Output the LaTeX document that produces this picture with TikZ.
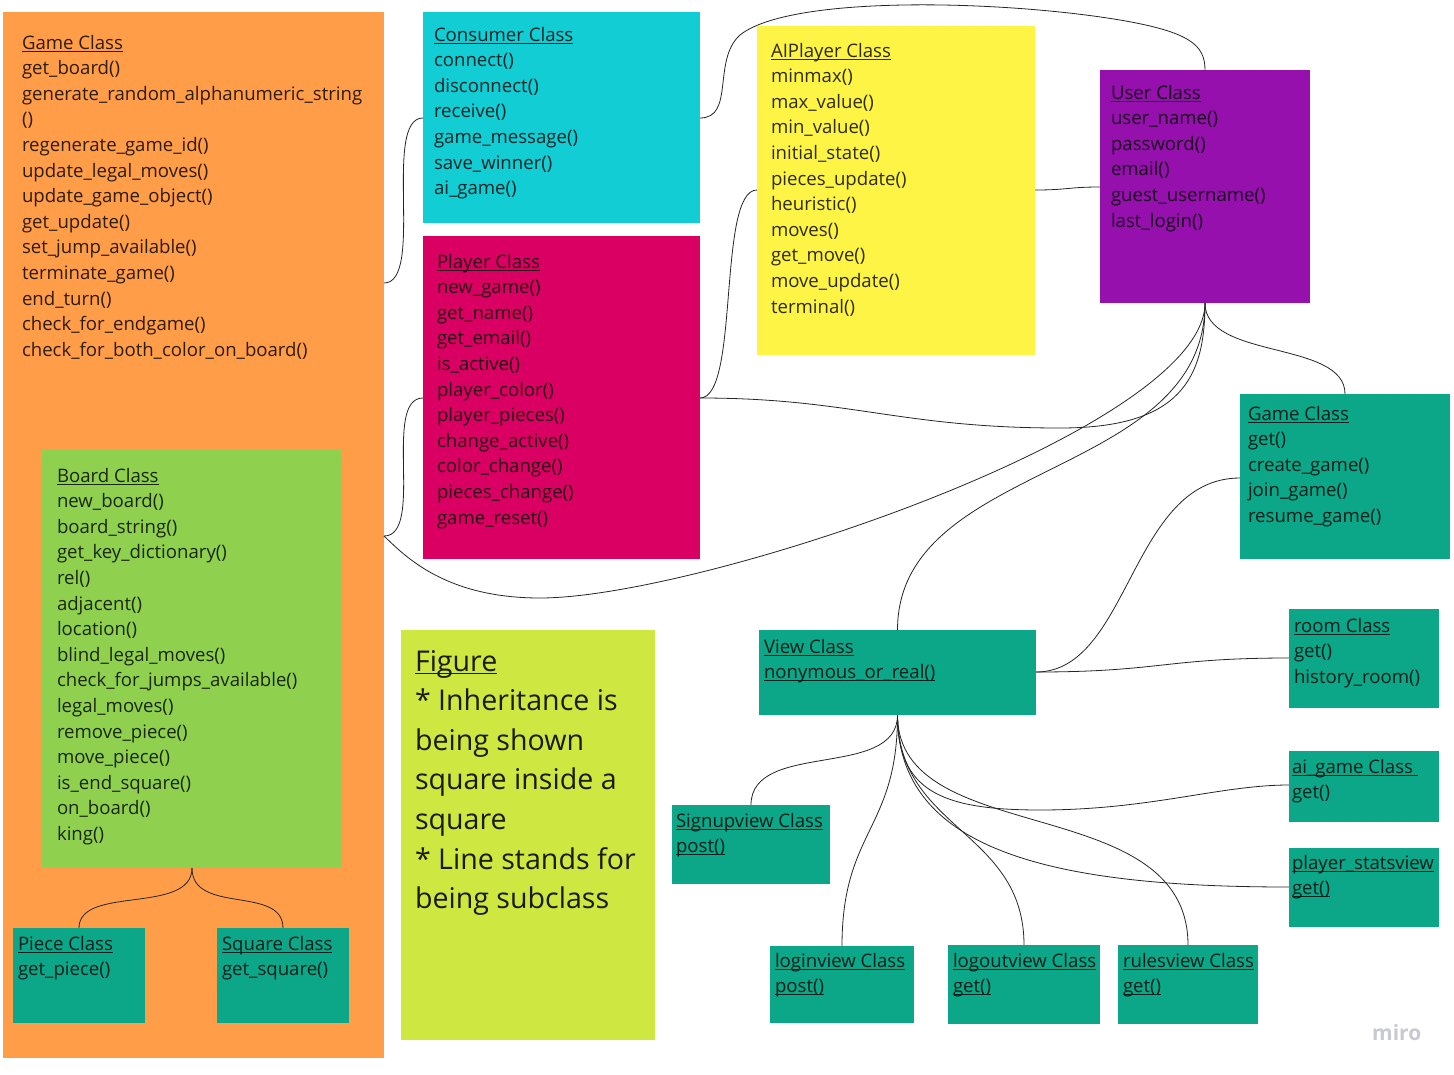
\documentclass[tikz,border=0pt]{standalone}
\usepackage{fontspec}
\setmainfont{Open Sans}
\usetikzlibrary{calc}
\definecolor{corange}{HTML}{FF9D48}
\definecolor{cgreen}{HTML}{8FD14F}
\definecolor{cteal}{HTML}{0CA789}
\definecolor{ccyan}{HTML}{12CDD4}
\definecolor{ccrimson}{HTML}{DA0063}
\definecolor{cyellow}{HTML}{FEF445}
\definecolor{cpurple}{HTML}{9510AC}
\definecolor{clime}{HTML}{CEE741}
\definecolor{cmiro}{HTML}{C9C9D2}
\newcommand\uln[1]{\setbox0\hbox{#1}\rlap{\rule[-2.6pt]{\wd0}{0.9pt}}\box0}
\newcommand\rowl[1]{\hbox{#1}}
\begin{document}
\begin{tikzpicture}[x=1pt,y=-1pt,
  box/.style={draw=none,fill=#1,inner sep=0pt,outer sep=0pt,anchor=north west},
  txt/.style={inner sep=0pt,outer sep=0pt,anchor=base west,text=black!82!#1,
    font=\fontsize{18.6}{25.6}\selectfont},
  fig/.style={inner sep=0pt,outer sep=0pt,anchor=base west,text=black!88!clime,
    font=\fontsize{28.6}{39.6}\selectfont},
  conn/.style={draw=black!85,line width=0.8pt}]
\useasboundingbox (0,0) rectangle (1454,1074);
\fill[white] (0,0) rectangle (1454,1074);

% ---------- boxes ----------
\node[box=corange,minimum width=381pt,minimum height=1046pt] (gameL) at (3,12) {};
\node[box=cgreen,minimum width=300pt,minimum height=418pt] (board) at (42,450) {};
\node[box=cteal,minimum width=132pt,minimum height=95pt] (piece) at (13,928) {};
\node[box=cteal,minimum width=132pt,minimum height=95pt] (square) at (217,928) {};
\node[box=ccyan,minimum width=277pt,minimum height=211pt] (consumer) at (423,12) {};
\node[box=ccrimson,minimum width=277pt,minimum height=323pt] (player) at (423,236) {};
\node[box=cyellow,minimum width=278pt,minimum height=329pt] (aip) at (757,26) {};
\node[box=cpurple,minimum width=210pt,minimum height=233pt] (user) at (1100,70) {};
\node[box=cteal,minimum width=210pt,minimum height=165pt] (gameR) at (1240,394) {};
\node[box=cteal,minimum width=277pt,minimum height=85pt] (view) at (759,630) {};
\node[box=cteal,minimum width=150pt,minimum height=99pt] (room) at (1289,609) {};
\node[box=cteal,minimum width=150pt,minimum height=71pt] (aig) at (1289,751) {};
\node[box=cteal,minimum width=150pt,minimum height=79pt] (pstats) at (1289,848) {};
\node[box=cteal,minimum width=158pt,minimum height=79pt] (signup) at (672,805) {};
\node[box=cteal,minimum width=144pt,minimum height=77pt] (login) at (770,946) {};
\node[box=cteal,minimum width=152pt,minimum height=79pt] (logout) at (948,945) {};
\node[box=cteal,minimum width=140pt,minimum height=79pt] (rules) at (1118,945) {};
\node[box=clime,minimum width=254pt,minimum height=410pt] (figure) at (401,630) {};

% ---------- texts ----------
\node[txt=corange] (gameLt) at (22,49) {\vtop{\rowl{\uln{Game Class}}\rowl{get\_board()}\rowl{generate\_random\_alphanumeric\_string}\rowl{()}\rowl{regenerate\_game\_id()}\rowl{update\_legal\_moves()}\rowl{update\_game\_object()}\rowl{get\_update()}\rowl{set\_jump\_available()}\rowl{terminate\_game()}\rowl{end\_turn()}\rowl{check\_for\_endgame()}\rowl{check\_for\_both\_color\_on\_board()}}};
\node[txt=cgreen] (boardt) at (57,482) {\vtop{\rowl{\uln{Board Class}}\rowl{new\_board()}\rowl{board\_string()}\rowl{get\_key\_dictionary()}\rowl{rel()}\rowl{adjacent()}\rowl{location()}\rowl{blind\_legal\_moves()}\rowl{check\_for\_jumps\_available()}\rowl{legal\_moves()}\rowl{remove\_piece()}\rowl{move\_piece()}\rowl{is\_end\_square()}\rowl{on\_board()}\rowl{king()}}};
\node[txt=cteal] (piecet) at (18,950) {\vtop{\rowl{\uln{Piece Class}}\rowl{get\_piece()}}};
\node[txt=cteal] (squaret) at (222,950) {\vtop{\rowl{\uln{Square Class}}\rowl{get\_square()}}};
\node[txt=ccyan] (consumert) at (434,41) {\vtop{\rowl{\uln{Consumer Class}}\rowl{connect()}\rowl{disconnect()}\rowl{receive()}\rowl{game\_message()}\rowl{save\_winner()}\rowl{ai\_game()}}};
\node[txt=ccrimson] (playert) at (437,268) {\vtop{\rowl{\uln{Player Class}}\rowl{new\_game()}\rowl{get\_name()}\rowl{get\_email()}\rowl{is\_active()}\rowl{player\_color()}\rowl{player\_pieces()}\rowl{change\_active()}\rowl{color\_change()}\rowl{pieces\_change()}\rowl{game\_reset()}}};
\node[txt=cyellow] (aipt) at (771,57) {\vtop{\rowl{\uln{AIPlayer Class}}\rowl{minmax()}\rowl{max\_value()}\rowl{min\_value()}\rowl{initial\_state()}\rowl{pieces\_update()}\rowl{heuristic()}\rowl{moves()}\rowl{get\_move()}\rowl{move\_update()}\rowl{terminal()}}};
\node[txt=cpurple] (usert) at (1111,99) {\vtop{\rowl{\uln{User Class}}\rowl{user\_name()}\rowl{password()}\rowl{email()}\rowl{guest\_username()}\rowl{last\_login()}}};
\node[txt=cteal] (gameRt) at (1248,420) {\vtop{\rowl{\uln{Game Class}}\rowl{get()}\rowl{create\_game()}\rowl{join\_game()}\rowl{resume\_game()}}};
\node[txt=cteal] (viewt) at (764,653) {\vtop{\rowl{\uln{View Class}}\rowl{\uln{nonymous\_or\_real()}}}};
\node[txt=cteal] (roomt) at (1294,632) {\vtop{\rowl{\uln{room Class}}\rowl{get()}\rowl{history\_room()}}};
\node[txt=cteal] (aigt) at (1292,773) {\vtop{\rowl{\uln{ai\_game Class\ }}\rowl{get()}}};
\node[txt=cteal] (pstatst) at (1292,869) {\vtop{\rowl{\uln{player\_statsview}}\rowl{\uln{get()}}}};
\node[txt=cteal] (signupt) at (676,827) {\vtop{\rowl{\uln{Signupview Class}}\rowl{\uln{post()}}}};
\node[txt=cteal] (logint) at (775,967) {\vtop{\rowl{\uln{loginview Class}}\rowl{\uln{post()}}}};
\node[txt=cteal] (logoutt) at (953,967) {\vtop{\rowl{\uln{logoutview Class}}\rowl{\uln{get()}}}};
\node[txt=cteal] (rulest) at (1123,967) {\vtop{\rowl{\uln{rulesview Class}}\rowl{\uln{get()}}}};
\node[fig] (figuret) at (415,671) {\vtop{\rowl{\uln{Figure}}\rowl{* Inheritance is}\rowl{being shown}\rowl{square inside a}\rowl{square}\rowl{* Line stands for}\rowl{being subclass}}};
\node[inner sep=0pt,anchor=base west,text=cmiro,font=\fontsize{21}{25}\selectfont\bfseries] (miro) at (1372,1040) {miro};

% ---------- anchor points ----------
\coordinate (o1) at ($(gameL.north east)+(0,271)$);
\coordinate (o2) at ($(gameL.north east)+(0,524)$);
\coordinate (c1) at ($(consumer.north west)+(0,106)$);
\coordinate (c2) at ($(consumer.north east)+(0,106)$);
\coordinate (p1) at ($(player.north west)+(0,162)$);
\coordinate (p2) at ($(player.north east)+(0,162)$);
\coordinate (a1) at ($(aip.north west)+(0,164)$);
\coordinate (a2) at ($(aip.north east)+(0,164)$);
\coordinate (u1) at ($(user.north west)+(0,117)$);
\coordinate (g1) at ($(gameR.north west)+(0,84)$);
\coordinate (v1) at ($(view.north east)+(0,42)$);
\coordinate (r1) at ($(room.north west)+(0,49)$);
\coordinate (ag1) at ($(aig.north west)+(0,34)$);
\coordinate (ps1) at ($(pstats.north west)+(0,39)$);
\coordinate (k1) at (540,598);
\coordinate (k2) at (1060,428);
\coordinate (k3) at (740,35);
\coordinate (k4) at (1120,20);
\coordinate (k5) at (1040,810);

% ---------- connectors ----------
\draw[conn] (o1) .. controls +(41,0) and +(-41,0) .. (c1);
\draw[conn] (o2) .. controls +(41,0) and +(-41,0) .. (p1);
\draw[conn] (o2) .. controls +(21,20) and +(-95,0) .. (k1)
                 .. controls +(160,0) and +(0,126) .. (user.south);
\draw[conn] (p2) .. controls +(40,0) and +(-40,0) .. (a1);
\draw[conn] (p2) .. controls +(150,0) and +(-160,0) .. (k2)
                 .. controls +(120,0) and +(0,76) .. (user.south);
\draw[conn] (c2) .. controls +(35,0) and +(-28,25) .. (k3)
                 .. controls +(50,-40) and +(-120,-20) .. (k4)
                 .. controls +(70,12) and +(0,-25) .. (user.north);
\draw[conn] (a2) .. controls +(33,0) and +(-32,0) .. (u1);
\draw[conn] (user.south) .. controls +(0,57) and +(0,-54) .. (gameR.north);
\draw[conn] (view.north) .. controls +(0,-170) and +(0,177) .. (user.south);
\draw[conn] (v1) .. controls +(94,0) and +(-110,0) .. (g1);
\draw[conn] (v1) .. controls +(124,0) and +(-124,0) .. (r1);
\draw[conn] (view.south) .. controls +(0,65) and +(0,-65) .. (signup.north);
\draw[conn] (view.south) .. controls +(0,115) and +(0,-116) .. (login.north);
\draw[conn] (view.south) .. controls +(0,115) and +(0,-115) .. (logout.north);
\draw[conn] (view.south) .. controls +(0,135) and +(0,-155) .. (rules.north);
\draw[conn] (view.south) .. controls +(0,75) and +(-100,0) .. (k5)
                         .. controls +(110,0) and +(-69,0) .. (ag1);
\draw[conn] (view.south) .. controls +(0,135) and +(-239,0) .. (ps1);
\draw[conn] (board.south) .. controls +(0,47) and +(0,-43) .. (piece.north);
\draw[conn] (board.south) .. controls +(0,47) and +(0,-43) .. (square.north);
\end{tikzpicture}
\end{document}
